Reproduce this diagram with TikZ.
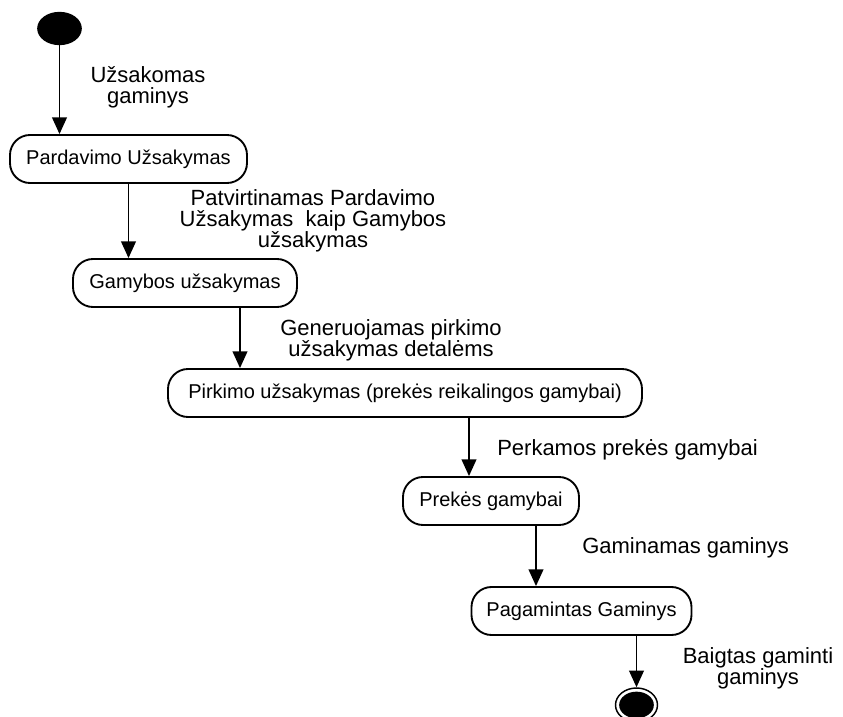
\documentclass[tikz,border=0pt]{standalone}
\usepackage{fontspec}
\setmainfont{Liberation Sans}
\usetikzlibrary{arrows.meta,shapes.geometric}
\begin{document}
\begin{tikzpicture}[x=0.75pt,y=-0.75pt,
  state/.style={draw,line width=1.4pt,rounded corners=15pt,minimum height=36pt,
    inner sep=0pt,font=\fontsize{15}{17}\selectfont},
  flow/.style={line width=1.4pt,-{Triangle[length=12.5pt,width=11pt]}},
  lbl/.style={font=\fontsize{16.5}{15.75}\selectfont,align=center,inner sep=0pt},
  initial/.style={ellipse,fill=black,minimum width=33.5pt,minimum height=25pt,inner sep=0pt},
  finalring/.style={ellipse,draw,line width=1.1pt,fill=white,minimum width=31.5pt,minimum height=25.5pt,inner sep=0pt},
  finaldot/.style={ellipse,fill=black,minimum width=26pt,minimum height=20pt,inner sep=0pt}]
\useasboundingbox (0,0) rectangle (843,717);

% initial and final states
\node[initial] (start) at (59.5,28.5) {};
\node[finalring] (end) at (636.5,705) {};
\node[finaldot] (enddot) at (end.center) {};

% action states
\node[state,minimum width=177.75pt] (b1) at (128.5,159) {Pardavimo Užsakymas};
\node[state,minimum width=168pt] (b2) at (185,283) {Gamybos užsakymas};
\node[state,minimum width=355.5pt] (b3) at (405,393) {Pirkimo užsakymas (prekės reikalingos gamybai)};
\node[state,minimum width=132pt] (b4) at (491,501) {Prekės gamybai};
\node[state,minimum width=165pt] (b5) at (581.5,611) {Pagamintas Gaminys};

% x positions of the vertical transitions
\coordinate (x3) at (240,0);
\coordinate (x4) at (469,0);
\coordinate (x5) at (536,0);

% transitions
\draw[flow] (start.south) -- (b1.north -| start.south);
\draw[flow] (b1.south) -- (b2.north -| b1.south);
\draw[flow] (b2.south -| x3) -- (b3.north -| x3);
\draw[flow] (b3.south -| x4) -- (b4.north -| x4);
\draw[flow] (b4.south -| x5) -- (b5.north -| x5);
\draw[flow] (b5.south -| end.north) -- (end.north);

% transition labels
\node[lbl] (l1) at (148,87) {Užsakomas\\gaminys};
\node[lbl] (l2) at (313,221) {Patvirtinamas Pardavimo\\Užsakymas\ \ kaip Gamybos\\užsakymas};
\node[lbl] (l3) at (391,340.5) {Generuojamas pirkimo\\užsakymas detalėms};
\node[lbl,anchor=west] (l4) at (497,450) {Perkamos prekės gamybai};
\node[lbl,anchor=west] (l5) at (582,548) {Gaminamas gaminys};
\node[lbl] (l6) at (758,668.5) {Baigtas gaminti\\gaminys};
\end{tikzpicture}
\end{document}
